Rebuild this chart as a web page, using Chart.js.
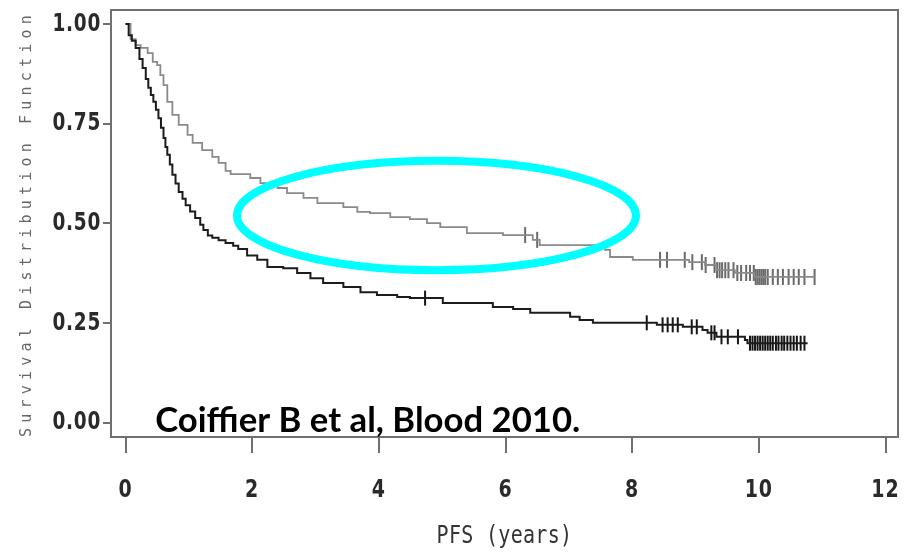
<!DOCTYPE html>
<html>
<head>
<meta charset="utf-8">
<script src="https://cdn.jsdelivr.net/npm/chart.js@4.4.1/dist/chart.umd.min.js"></script>
<style>
html, body { margin: 0; padding: 0; background: #fff; }
canvas { display: block; }
</style>
</head>
<body>
<canvas id="c" width="908" height="553"></canvas>
<script>
const canvas = document.getElementById("c")

// upper grey curve (R-CHOP): step times in years and survival after each step
const rchop_t = [0, 0.08, 0.16, 0.24, 0.35, 0.43, 0.50, 0.55, 0.60, 0.66, 0.74, 0.84, 0.98, 1.06, 1.21, 1.37, 1.47, 1.58, 1.66, 1.97, 2.13, 2.40, 2.55, 2.81, 3.03, 3.44, 3.66, 3.86, 4.18, 4.49, 4.76, 4.97, 5.39, 5.96, 6.43, 6.54, 7.57, 7.65, 8.01, 8.90, 9.15, 9.33, 9.62, 9.93, 10.88]
const rchop_s = [1.00, 0.962, 0.947, 0.940, 0.927, 0.905, 0.897, 0.872, 0.847, 0.805, 0.772, 0.747, 0.722, 0.702, 0.684, 0.667, 0.652, 0.632, 0.624, 0.614, 0.601, 0.589, 0.576, 0.564, 0.551, 0.541, 0.529, 0.526, 0.516, 0.511, 0.501, 0.491, 0.476, 0.471, 0.459, 0.446, 0.434, 0.416, 0.409, 0.403, 0.396, 0.383, 0.376, 0.366, 0.366]
const rchop_censor = [6.31, 6.50, 8.44, 8.55, 8.83, 8.95, 9.10, 9.16, 9.30, 9.34, 9.38, 9.42, 9.47, 9.52, 9.60, 9.66, 9.72, 9.80, 9.86, 9.92, 9.95, 9.98, 10.01, 10.04, 10.07, 10.10, 10.14, 10.22, 10.30, 10.38, 10.47, 10.55, 10.63, 10.72, 10.88]

// lower black curve (CHOP)
const chop_t = [0, 0.05, 0.10, 0.16, 0.22, 0.27, 0.32, 0.36, 0.40, 0.44, 0.48, 0.52, 0.56, 0.60, 0.63, 0.66, 0.70, 0.74, 0.79, 0.84, 0.90, 0.95, 1.02, 1.10, 1.18, 1.23, 1.30, 1.37, 1.47, 1.58, 1.70, 1.78, 1.92, 2.08, 2.24, 2.49, 2.71, 2.92, 3.12, 3.44, 3.71, 3.97, 4.29, 4.49, 5.01, 5.80, 6.12, 6.39, 7.02, 7.17, 7.38, 8.39, 8.80, 9.11, 9.19, 9.33, 9.78, 9.82, 10.77]
const chop_s = [1.00, 0.972, 0.958, 0.940, 0.912, 0.890, 0.862, 0.840, 0.822, 0.805, 0.785, 0.764, 0.740, 0.714, 0.692, 0.672, 0.648, 0.622, 0.600, 0.579, 0.562, 0.546, 0.530, 0.514, 0.497, 0.484, 0.470, 0.464, 0.458, 0.451, 0.444, 0.436, 0.420, 0.409, 0.391, 0.388, 0.376, 0.363, 0.351, 0.341, 0.328, 0.321, 0.316, 0.313, 0.301, 0.291, 0.286, 0.276, 0.266, 0.258, 0.251, 0.246, 0.241, 0.233, 0.226, 0.216, 0.208, 0.200, 0.200]
const chop_censor = [4.73, 8.23, 8.48, 8.56, 8.64, 8.72, 8.94, 9.02, 9.25, 9.30, 9.41, 9.51, 9.67, 9.86, 9.90, 9.94, 9.98, 10.02, 10.06, 10.10, 10.14, 10.18, 10.22, 10.27, 10.31, 10.36, 10.40, 10.45, 10.50, 10.55, 10.60, 10.66, 10.72]

const x_ticks = [0, 2, 4, 6, 8, 10, 12]
const y_ticks = [0, 0.25, 0.5, 0.75, 1]
const y_tick_labels = ["0.00", "0.25", "0.50", "0.75", "1.00"]
const x_title = "PFS (years)"
const y_title = "Survival Distribution Function"
const citation = "Coiffier B et al, Blood 2010."

// highlight ring, in axis units: centre x, centre y, half width, half height
const ring = [4.91, 0.52, 3.15, 0.137]
const citation_at = [0.47, -0.023]

// the old SAS tick font is tall and narrow: x labels are stretched up, y labels squeezed
const letter_space = {x: {labels: "1px", title: "0.3px"}, y: {labels: "1px", title: "5.2px"}}
const label_stretch = {x: [1, 1.35], y: [0.74, 1]}
const title_stretch = {x: 1.2, y: 1}
const tick_font = "'DejaVu Sans', sans-serif"

function pairs(ts, ss){
    return ts.map((t, i) => ({x: t, y: ss[i]}))
}

// value of the step curve at time t (used to sit the censor marks on it)
function surv_at(ts, ss, t){
    let v = ss[0]
    for (let i = 0; i < ts.length; i++){
        if (ts[i] <= t) v = ss[i]
    }
    return v
}

function censor_pairs(ts, ss, cs){
    return cs.map(c => ({x: c, y: surv_at(ts, ss, c)}))
}

const spaced_text = {
    id: "spaced_text",
    beforeDraw(chart){
        for (const id of ["x", "y"]){
            const sc = chart.scales[id]
            if (sc.spaced) continue
            sc.spaced = true
            const sp = letter_space[id]
            const st = label_stretch[id]
            const draw_title = sc.drawTitle
            const draw_labels = sc.drawLabels
            sc.drawTitle = function(){
                const ctx = this.ctx
                ctx.save()
                ctx.letterSpacing = sp.title
                if (id == "x"){
                    // stretch the x title upwards about its own middle line
                    const t = this.options.title
                    const ay = this.bottom - (t.font.size * 1.2) / 2 - t.padding.bottom
                    ctx.translate(0, ay)
                    ctx.scale(1, title_stretch.x)
                    ctx.translate(0, -ay)
                }
                draw_title.apply(this, arguments)
                ctx.restore()
                ctx.letterSpacing = "0px"
            }
            sc.drawLabels = function(){
                const ctx = this.ctx
                const tl = this.options.grid.tickLength
                const pad = this.options.ticks.padding
                // anchor: right edge of y labels, top edge of x labels
                const ax = id == "y" ? this.right - tl - pad : 0
                const ay = id == "x" ? this.top + tl + pad : 0
                ctx.save()
                ctx.letterSpacing = sp.labels
                ctx.translate(ax, ay)
                ctx.scale(st[0], st[1])
                ctx.translate(-ax, -ay)
                draw_labels.apply(this, arguments)
                ctx.restore()
                ctx.letterSpacing = "0px"
            }
        }
    }
}

const frame = {
    id: "frame",
    beforeDatasetsDraw(chart){
        const a = chart.chartArea
        const ctx = chart.ctx
        ctx.save()
        ctx.strokeStyle = "#707070"
        ctx.lineWidth = 2
        ctx.strokeRect(a.left, a.top, a.right - a.left, a.bottom - a.top)
        ctx.restore()
    }
}

const overlay = {
    id: "overlay",
    afterDatasetsDraw(chart){
        const ctx = chart.ctx
        const xs = chart.scales.x, ys = chart.scales.y
        const cx = xs.getPixelForValue(ring[0])
        const cy = ys.getPixelForValue(ring[1])
        const rx = xs.getPixelForValue(ring[0] + ring[2]) - cx
        const ry = cy - ys.getPixelForValue(ring[1] + ring[3])
        ctx.save()
        ctx.strokeStyle = "#00ffff"
        ctx.lineWidth = 8
        ctx.beginPath()
        ctx.ellipse(cx, cy, rx, ry, 0, 0, Math.PI * 2)
        ctx.stroke()

        ctx.fillStyle = "#000"
        ctx.font = "bold 35px Lato, 'Open Sans', sans-serif"
        ctx.textBaseline = "alphabetic"
        ctx.textAlign = "left"
        ctx.fillText(citation, xs.getPixelForValue(citation_at[0]), ys.getPixelForValue(citation_at[1]), 425)
        ctx.restore()
    }
}

const chart = new Chart(canvas.getContext("2d"), {
    type: "line",
    data: {
        datasets: [
            {data: pairs(chop_t, chop_s), borderColor: "#1c1c1c", borderWidth: 2, stepped: true, pointRadius: 0, fill: false},
            {data: pairs(rchop_t, rchop_s), borderColor: "#8a8a8a", borderWidth: 1.8, stepped: true, pointRadius: 0, fill: false},
            {data: censor_pairs(chop_t, chop_s, chop_censor), showLine: false, pointStyle: "line", pointRotation: 90, pointRadius: 7.5, pointBorderWidth: 2, borderColor: "#151515", pointHoverRadius: 7.5},
            {data: censor_pairs(rchop_t, rchop_s, rchop_censor), showLine: false, pointStyle: "line", pointRotation: 90, pointRadius: 8, pointBorderWidth: 2, borderColor: "#6a6a6a", pointHoverRadius: 8}
        ]
    },
    options: {
        responsive: false,
        animation: false,
        events: [],
        layout: {padding: {top: 10, right: 10, left: 0, bottom: 0}},
        plugins: {legend: {display: false}, tooltip: {enabled: false}},
        scales: {
            x: {
                type: "linear",
                min: -0.229,
                max: 12.197,
                afterBuildTicks: s => { s.ticks = x_ticks.map(v => ({value: v})) },
                afterFit: s => { s.height = 116; s.paddingLeft = 0; s.paddingRight = 0 },
                grid: {drawOnChartArea: false, drawTicks: true, tickLength: 16, color: "#707070", lineWidth: 2},
                border: {display: false},
                ticks: {autoSkip: false, maxRotation: 0, padding: 22, color: "#2a2a2a",
                    font: {family: tick_font, size: 19, weight: "bold"},
                    callback: (v, i) => String(x_ticks[i])},
                title: {display: true, text: x_title, color: "#333",
                    font: {family: "'DejaVu Sans Mono', monospace", size: 20},
                    padding: {top: 0, bottom: 4}}
            },
            y: {
                type: "linear",
                min: -0.0351,
                max: 1.0351,
                afterBuildTicks: s => { s.ticks = y_ticks.map(v => ({value: v})) },
                afterFit: s => { s.width = 111; s.paddingTop = 0; s.paddingBottom = 0 },
                grid: {drawOnChartArea: false, drawTicks: true, tickLength: 8, color: "#707070", lineWidth: 2},
                border: {display: false},
                ticks: {padding: 2, color: "#2a2a2a",
                    font: {family: tick_font, size: 25, weight: "bold"},
                    callback: (v, i) => y_tick_labels[i]},
                title: {display: true, text: y_title, color: "#666",
                    font: {family: "'DejaVu Sans Mono', monospace", size: 15},
                    padding: {top: 18, bottom: 0}}
            }
        }
    },
    plugins: [spaced_text, frame, overlay]
})
</script>
</body>
</html>
